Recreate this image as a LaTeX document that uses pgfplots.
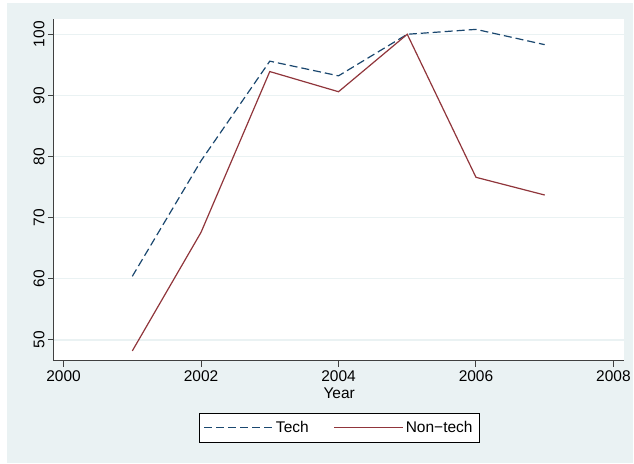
\documentclass[border=0pt]{standalone}
\usepackage{pgfplots}
\pgfplotsset{compat=1.18}
\usepackage{fontspec}
\setmainfont{Liberation Sans}
\definecolor{bg}{HTML}{EAF2F3}
\definecolor{gridc}{HTML}{EAF2F3}
\definecolor{tech}{HTML}{1A476F}
\definecolor{nontech}{HTML}{90353B}
\begin{document}
\begin{tikzpicture}
\fill[white] (0pt,0pt) rectangle (634pt,464pt);
\fill[bg] (7pt,1pt) rectangle (634pt,461pt);
\begin{axis}[
  at={(54pt,103pt)}, anchor=south west,
  scale only axis, width=571pt, height=342pt,
  xmin=1999.86, xmax=2008.16, ymin=46.6, ymax=102.5,
  axis background/.style={fill=white},
  axis x line*=bottom, axis y line*=left,
  axis line style={-, line width=1pt, black!75},
  xtick={2000,2002,2004,2006,2008},
  ytick={50,60,70,80,90,100},
  /pgf/number format/assume math mode=true,
  /pgf/number format/1000 sep={},
  tick align=outside, major tick length=6pt,
  tick style={line width=1pt, black!75},
  ymajorgrids, grid style={gridc, line width=1.2pt},
  every tick label/.append style={font=\fontsize{15.5}{17}\selectfont, black},
  yticklabel style={rotate=90, anchor=south},
  xlabel={Year},
  xlabel style={font=\fontsize{15.5}{17}\selectfont, yshift=0pt},
  legend columns=2,
  legend style={at={(0.5,-0.152)}, anchor=north, draw=black, line width=0.8pt,
    font=\fontsize{15.5}{17}\selectfont, inner xsep=4.5pt, inner ysep=6.5pt,
    /tikz/every even column/.append style={column sep=23pt}},
  legend cell align=left,
  legend image code/.code={\draw[#1] (0pt,0pt) -- (60pt,0pt); \path (0pt,0pt) -- (69pt,0pt);},
]
\addplot[tech, line width=1.2pt, dash pattern=on 8pt off 4pt] coordinates {
(2001,60.4) (2002,79.3) (2003,95.6) (2004,93.2) (2005,100.0) (2006,100.8) (2007,98.3)};
\addlegendentry{Tech}
\addplot[nontech, line width=1.2pt] coordinates {
(2001,48.2) (2002,67.6) (2003,93.9) (2004,90.6) (2005,100.0) (2006,76.6) (2007,73.7)};
\addlegendentry{Non−tech}
\end{axis}
\end{tikzpicture}
\end{document}
